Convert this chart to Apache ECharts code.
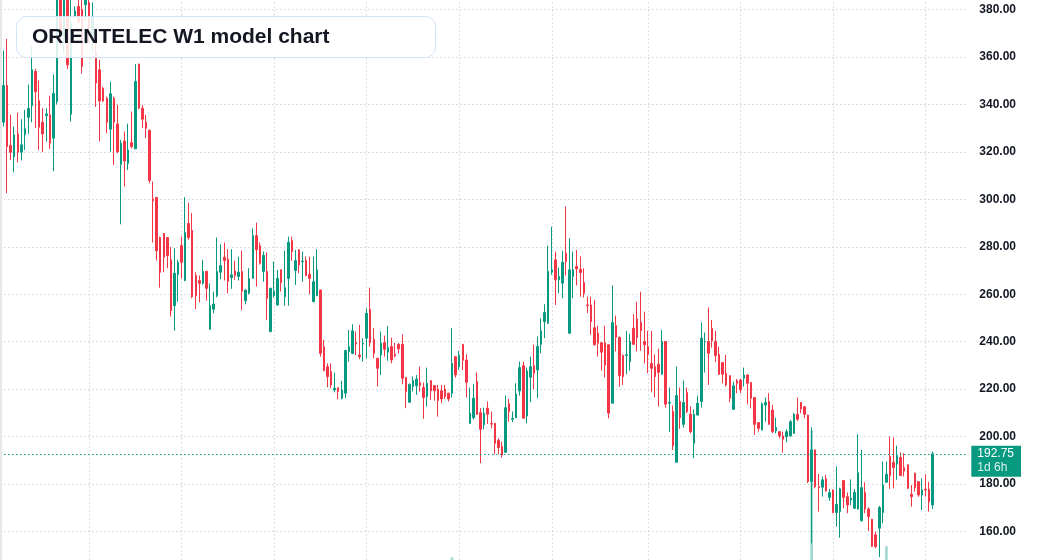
<!DOCTYPE html>
<html>
<head>
<meta charset="utf-8">
<title>ORIENTELEC W1 model chart</title>
<script src="https://cdn.jsdelivr.net/npm/echarts@6/dist/echarts.min.js"></script>
<style>
html, body { margin: 0; padding: 0; background: #fff; }
#chart { width: 1037px; height: 560px; }
</style>
</head>
<body>
<div id="chart"></div>
<script>
// OHLC, oldest candle first
var open = [
  332.5,348.0,322.7,318.0,327.6,319.9,327.2,334.6,339.5,353.9,
  341.6,332.5,335.3,335.6,325.8,341.2,388.0,368.0,386.0,335.9,
  377.0,381.3,380.0,382.0,383.0,368.0,362.0,354.6,346.8,342.6,
  329.6,342.6,331.8,314.8,324.6,315.2,323.9,321.3,357.0,338.4,
  332.5,329.0,300.2,300.8,283.9,285.6,283.9,274.5,255.2,268.4,
  280.5,265.8,289.8,286.9,267.9,265.8,264.6,269.6,245.3,253.7,
  259.4,269.3,275.6,274.8,267.0,269.8,267.5,269.6,257.3,260.4,
  266.8,284.7,280.5,269.6,269.6,244.3,259.4,255.5,270.3,259.0,
  266.7,282.6,270.0,278.7,273.7,274.2,268.4,256.9,259.4,261.8,
  237.9,229.5,227.4,219.7,220.6,216.2,218.3,235.8,235.1,239.6,
  234.4,239.0,241.5,253.7,241.0,233.0,234.4,239.6,235.6,238.0,
  234.7,238.9,238.9,224.9,214.5,221.1,221.4,222.8,220.7,216.9,
  223.6,221.5,220.0,219.3,220.0,218.3,218.3,233.7,229.5,238.9,
  232.3,205.6,208.0,223.2,210.1,205.0,212.0,205.5,205.6,198.5,
  195.8,193.4,213.9,207.3,208.0,219.3,229.9,208.7,225.0,229.9,
  228.1,238.9,248.5,247.8,269.3,274.5,266.1,264.7,277.3,243.6,
  267.5,271.7,270.5,264.9,255.5,255.5,245.9,243.6,239.6,239.6,
  238.7,214.1,246.8,241.9,234.2,234.2,231.6,245.7,249.6,248.1,
  240.1,237.9,230.8,229.5,230.5,226.3,240.1,214.1,210.6,189.2,
  214.8,205.2,218.6,209.4,197.2,209.1,214.8,240.0,240.1,245.7,
  240.1,234.7,231.2,226.7,225.7,211.5,223.5,223.9,224.6,226.0,
  222.8,216.5,205.9,202.8,213.3,214.8,211.2,202.4,202.1,200.3,
  200.0,200.3,201.4,209.4,214.4,212.6,209.1,181.1,194.4,178.9,
  178.7,182.2,174.4,177.5,168.0,168.4,181.5,174.7,173.3,169.8,
  169.5,164.5,176.5,169.5,165.2,158.6,161.4,168.0,180.8,191.6,
  189.2,188.4,191.2,186.9,188.1,175.7,184.6,181.0,175.4,177.8,
  177.8,171.2
];
var close = [
  348.0,322.3,319.9,327.2,319.9,323.0,329.8,338.3,354.6,345.4,
  330.4,327.6,336.0,323.7,344.6,385.0,370.0,384.0,356.7,374.2,
  379.4,375.0,356.0,386.0,372.0,377.0,349.0,341.5,341.5,332.5,
  344.5,332.5,320.1,323.7,316.2,320.8,322.3,349.7,338.4,333.8,
  330.0,307.9,299.4,278.3,269.3,275.6,276.3,253.1,268.9,273.4,
  273.5,286.0,283.9,259.0,259.4,264.6,269.6,262.5,255.2,255.9,
  269.6,272.1,274.2,265.4,268.2,267.9,269.3,261.3,261.8,266.6,
  284.7,278.7,273.1,276.4,258.3,262.5,261.1,266.7,264.9,262.8,
  281.9,278.0,274.2,272.4,274.0,267.9,266.7,265.3,270.3,235.1,
  227.8,225.3,221.8,220.4,219.0,219.7,236.3,237.9,244.6,239.0,
  233.7,239.4,252.0,239.6,235.1,228.8,239.4,236.8,237.5,232.3,
  234.0,237.0,224.6,219.0,222.1,223.6,224.3,221.5,216.5,222.5,
  219.3,219.3,215.2,215.9,216.9,215.9,230.9,226.0,234.2,232.2,
  222.9,209.9,216.2,209.4,203.1,209.9,209.4,205.3,197.2,195.4,
  192.3,212.2,210.6,207.7,217.9,229.1,207.8,227.7,229.5,226.7,
  238.0,244.6,252.3,269.6,270.3,266.1,267.5,273.5,273.8,270.3,
  270.3,270.7,269.2,260.4,255.2,248.5,238.7,239.4,235.6,230.2,
  209.9,248.1,241.9,225.7,225.3,234.5,240.1,238.9,241.7,244.7,
  238.7,234.7,228.8,225.3,227.1,240.1,213.7,214.4,196.2,217.3,
  208.0,214.4,210.6,202.1,209.4,214.1,241.5,240.1,235.1,240.4,
  234.2,226.3,226.3,221.8,216.2,221.4,222.5,219.7,226.0,222.5,
  216.2,205.2,203.5,213.8,214.4,205.2,202.1,203.8,200.3,198.9,
  202.1,206.3,209.4,207.3,211.7,209.4,181.1,194.4,178.9,178.5,
  181.8,177.1,176.4,168.0,171.5,178.0,174.4,171.2,174.0,176.5,
  184.8,178.5,169.5,166.3,153.7,153.7,170.1,179.6,184.1,183.6,
  187.0,192.0,183.6,185.5,178.2,174.7,178.5,175.4,177.5,177.5,
  172.6,192.75
];
var low = [
  330.7,302.6,316.6,311.4,315.6,316.4,320.8,327.6,332.5,330.0,
  320.8,319.9,324.4,321.3,311.9,340.0,365.0,362.0,355.0,332.8,
  376.3,374.0,353.0,375.0,366.0,362.0,339.0,324.4,341.0,327.9,
  320.1,314.5,319.4,289.5,305.4,312.4,321.5,321.3,338.0,330.0,
  325.8,306.8,281.8,274.2,262.8,269.3,271.0,250.6,244.7,256.9,
  266.8,265.5,283.0,258.3,253.7,256.6,264.0,257.3,245.0,252.0,
  258.7,266.3,265.8,260.4,262.3,266.1,265.8,253.3,255.8,260.0,
  266.5,263.2,272.5,265.3,249.2,244.0,258.6,255.2,261.1,255.2,
  255.2,274.1,263.9,268.9,265.3,267.6,260.0,256.6,259.2,233.7,
  227.6,220.8,220.4,218.7,215.7,215.7,216.2,231.6,234.7,234.4,
  232.6,231.6,233.0,237.9,233.0,221.1,226.0,233.7,232.0,230.9,
  233.4,235.1,222.1,212.0,214.3,219.0,217.6,219.0,207.5,212.7,
  215.5,215.2,208.4,214.1,215.9,214.8,216.5,224.9,228.1,228.1,
  216.6,205.4,207.3,209.2,188.8,203.1,205.4,203.5,192.6,192.6,
  191.2,193.2,206.3,206.1,207.8,217.3,207.6,205.6,214.5,220.0,
  216.2,235.1,241.5,247.5,268.2,255.5,260.4,258.3,267.9,243.4,
  258.3,263.7,259.0,258.6,252.0,242.9,238.4,233.7,227.8,224.9,
  207.7,214.0,235.9,221.1,221.8,226.3,227.8,238.7,235.9,236.1,
  230.9,226.7,218.7,216.5,212.7,226.1,212.2,201.9,194.4,189.0,
  203.3,203.8,209.9,201.4,190.9,209.0,212.2,227.0,221.8,237.5,
  231.4,226.0,222.5,221.1,214.5,211.3,218.3,218.3,221.1,213.6,
  211.9,200.7,202.1,202.6,206.3,205.0,201.4,201.4,199.3,193.3,
  197.6,200.1,201.2,206.6,209.9,207.7,180.4,155.0,178.2,168.4,
  174.7,176.8,172.9,167.7,162.1,157.4,169.8,167.7,171.2,169.6,
  169.3,164.3,167.7,160.3,153.5,153.0,149.2,163.5,180.6,178.0,
  178.2,181.8,183.4,183.2,178.0,170.5,176.8,174.7,169.1,174.7,
  168.4,169.5
];
var high = [
  362.7,367.6,335.6,330.7,336.6,333.8,337.7,348.4,364.4,355.0,
  350.1,338.4,338.4,343.7,352.6,390.0,392.0,390.0,390.0,384.0,
  381.3,385.0,386.0,390.0,388.0,383.0,372.0,358.8,347.5,343.3,
  349.6,343.3,339.8,325.1,328.6,331.9,337.0,357.0,357.2,339.8,
  335.6,329.5,307.5,301.0,284.3,285.8,284.1,279.9,279.4,274.5,
  284.3,300.9,298.6,294.2,269.3,267.9,274.5,270.0,264.6,261.1,
  283.9,281.1,281.8,279.0,279.0,274.1,275.9,278.4,262.0,271.0,
  287.8,290.2,281.9,278.0,277.6,262.8,273.8,270.3,270.5,278.3,
  284.3,284.3,278.7,279.0,278.0,275.9,275.9,275.9,279.0,262.0,
  240.8,230.9,230.9,227.0,220.8,223.5,236.6,245.0,247.4,244.3,
  247.1,241.5,254.1,262.8,245.7,233.2,244.3,242.6,246.7,241.7,
  239.6,239.4,243.1,225.1,222.3,225.3,226.0,229.5,222.8,229.1,
  223.8,221.7,221.8,221.8,221.8,218.5,245.7,233.9,236.1,239.1,
  234.7,220.7,222.1,227.0,212.0,212.2,214.8,210.6,205.8,199.3,
  197.9,217.3,215.9,210.6,222.5,231.6,231.6,229.1,233.7,238.7,
  242.2,249.9,255.8,280.5,288.5,278.0,271.3,278.3,297.0,283.6,
  278.0,278.7,276.0,271.0,259.0,259.0,257.6,246.8,239.8,246.8,
  238.9,263.7,251.0,242.1,234.7,244.6,243.2,251.6,256.9,261.1,
  252.7,244.6,244.6,234.7,237.0,245.0,240.3,220.7,213.1,229.5,
  220.7,223.6,220.7,212.7,211.5,217.3,248.1,243.9,254.5,249.2,
  244.6,237.9,231.4,234.4,225.9,223.2,224.3,224.3,229.1,226.2,
  223.0,216.7,206.1,214.4,216.5,218.3,213.4,208.0,202.3,202.1,
  203.1,207.0,209.9,216.5,214.6,212.8,209.3,203.9,194.6,184.3,
  183.2,183.9,177.9,177.7,187.4,178.5,181.7,176.5,182.0,177.9,
  201.0,194.4,180.8,170.1,165.4,160.0,170.8,189.5,189.5,200.0,
  199.6,196.2,193.4,193.0,188.3,179.6,184.8,181.3,182.4,184.1,
  181.0,193.7
];
// only these volume bars rise high enough to show (candle index -> volume)
var volumeSpikes = { 126: 0.35, 227: 2.41, 248: 0.53 };
var lastPrice = 192.75;
var timeLeft = '1d 6h';
var titleText = 'ORIENTELEC W1 model chart';
// candles that carry a vertical grid line
var gridCandles = [24, 50, 76, 102, 128, 154, 181, 207, 233, 259];

var UP = '#089981', DOWN = '#F23645';
var lead = 1, trail = 10;
var total = lead + open.length + trail;
var categories = [];
for (var i = 0; i < total; i++) categories.push(String(i));

var candles = open.map(function (o, i) {
    return [i + lead, o, close[i], low[i], high[i]];
});
var volume = Object.keys(volumeSpikes).map(function (k) {
    return [Number(k) + lead, volumeSpikes[k]];
});

var chart = echarts.init(document.getElementById('chart'));
var font = '"Liberation Sans", Arial, sans-serif';

var option = {
    animation: false,
    backgroundColor: '#ffffff',
    grid: {
        left: 0,
        right: 68.7,
        top: -37.9,
        bottom: -19,
        containLabel: false,
        outerBoundsMode: 'none'
    },
    xAxis: {
        type: 'category',
        data: categories,
        boundaryGap: false,
        axisLine: { show: false },
        axisTick: { show: false },
        axisLabel: { show: false },
        splitLine: {
            show: true,
            interval: function (idx) { return gridCandles.indexOf(idx - lead) >= 0; },
            lineStyle: { color: '#d1d4dc', width: 1, type: [1.5, 2.5] }
        }
    },
    yAxis: [{
        type: 'value',
        position: 'right',
        min: 140,
        max: 400,
        interval: 20,
        axisLine: { show: false },
        axisTick: { show: false },
        splitLine: {
            show: true,
            lineStyle: { color: '#d1d4dc', width: 1, type: [1.5, 2.5] }
        },
        axisLabel: {
            margin: 11,
            color: '#131722',
            fontSize: 12,
            fontWeight: 'bold',
            fontFamily: font,
            formatter: function (v) { return v.toFixed(2); }
        }
    }, {
        type: 'value',
        show: false,
        min: 0,
        max: 10,
        splitLine: { show: false }
    }],
    series: [{
        name: 'Volume',
        type: 'bar',
        yAxisIndex: 1,
        barWidth: 2.5,
        encode: { x: 0, y: 1 },
        itemStyle: { color: 'rgba(8,153,129,0.4)' },
        data: volume
    }, {
        name: 'ORIENTELEC',
        type: 'candlestick',
        barWidth: 2,
        clip: false,
        encode: { x: 0, y: [1, 2, 3, 4] },
        itemStyle: {
            color: UP,
            color0: DOWN,
            borderColor: UP,
            borderColor0: DOWN,
            borderWidth: 1
        },
        data: candles,
        markLine: {
            silent: true,
            symbol: ['none', 'none'],
            lineStyle: { color: UP, width: 1, type: [1.5, 2.5] },
            label: {
                show: true,
                position: 'end',
                distance: 3,
                align: 'left',
                verticalAlign: 'top',
                offset: [0, -8],
                backgroundColor: UP,
                padding: [1, 7, 2, 6],
                fontFamily: font,
                fontSize: 12,
                lineHeight: 14,
                color: '#ffffff',
                formatter: function () { return '{p|' + lastPrice.toFixed(2) + '}\n{t|' + timeLeft + '}'; },
                rich: {
                    p: { color: '#ffffff', fontSize: 12, lineHeight: 14, fontFamily: font },
                    t: { color: 'rgba(255,255,255,0.85)', fontSize: 12, lineHeight: 14, fontFamily: font }
                }
            },
            data: [{ yAxis: lastPrice }]
        }
    }],
    graphic: [{
        type: 'rect',
        z: 100,
        zlevel: 1,
        shape: { x: 0, y: 0, width: 2, height: 560 },
        style: { fill: '#e8e8e8' }
    }, {
        type: 'rect',
        z: 100,
        zlevel: 1,
        shape: { x: 16.5, y: 16.5, width: 419, height: 41, r: 10 },
        style: { fill: 'rgba(255,255,255,0.86)', stroke: '#d3e2f7', lineWidth: 1 }
    }, {
        type: 'text',
        z: 101,
        zlevel: 1,
        x: 32,
        y: 37,
        style: {
            text: titleText,
            fill: '#131722',
            fontSize: 21,
            fontWeight: 'bold',
            fontFamily: font,
            verticalAlign: 'middle'
        }
    }]
};

option && chart.setOption(option);

window.addEventListener('resize', function () {
    chart.resize();
});
</script>
</body>
</html>
